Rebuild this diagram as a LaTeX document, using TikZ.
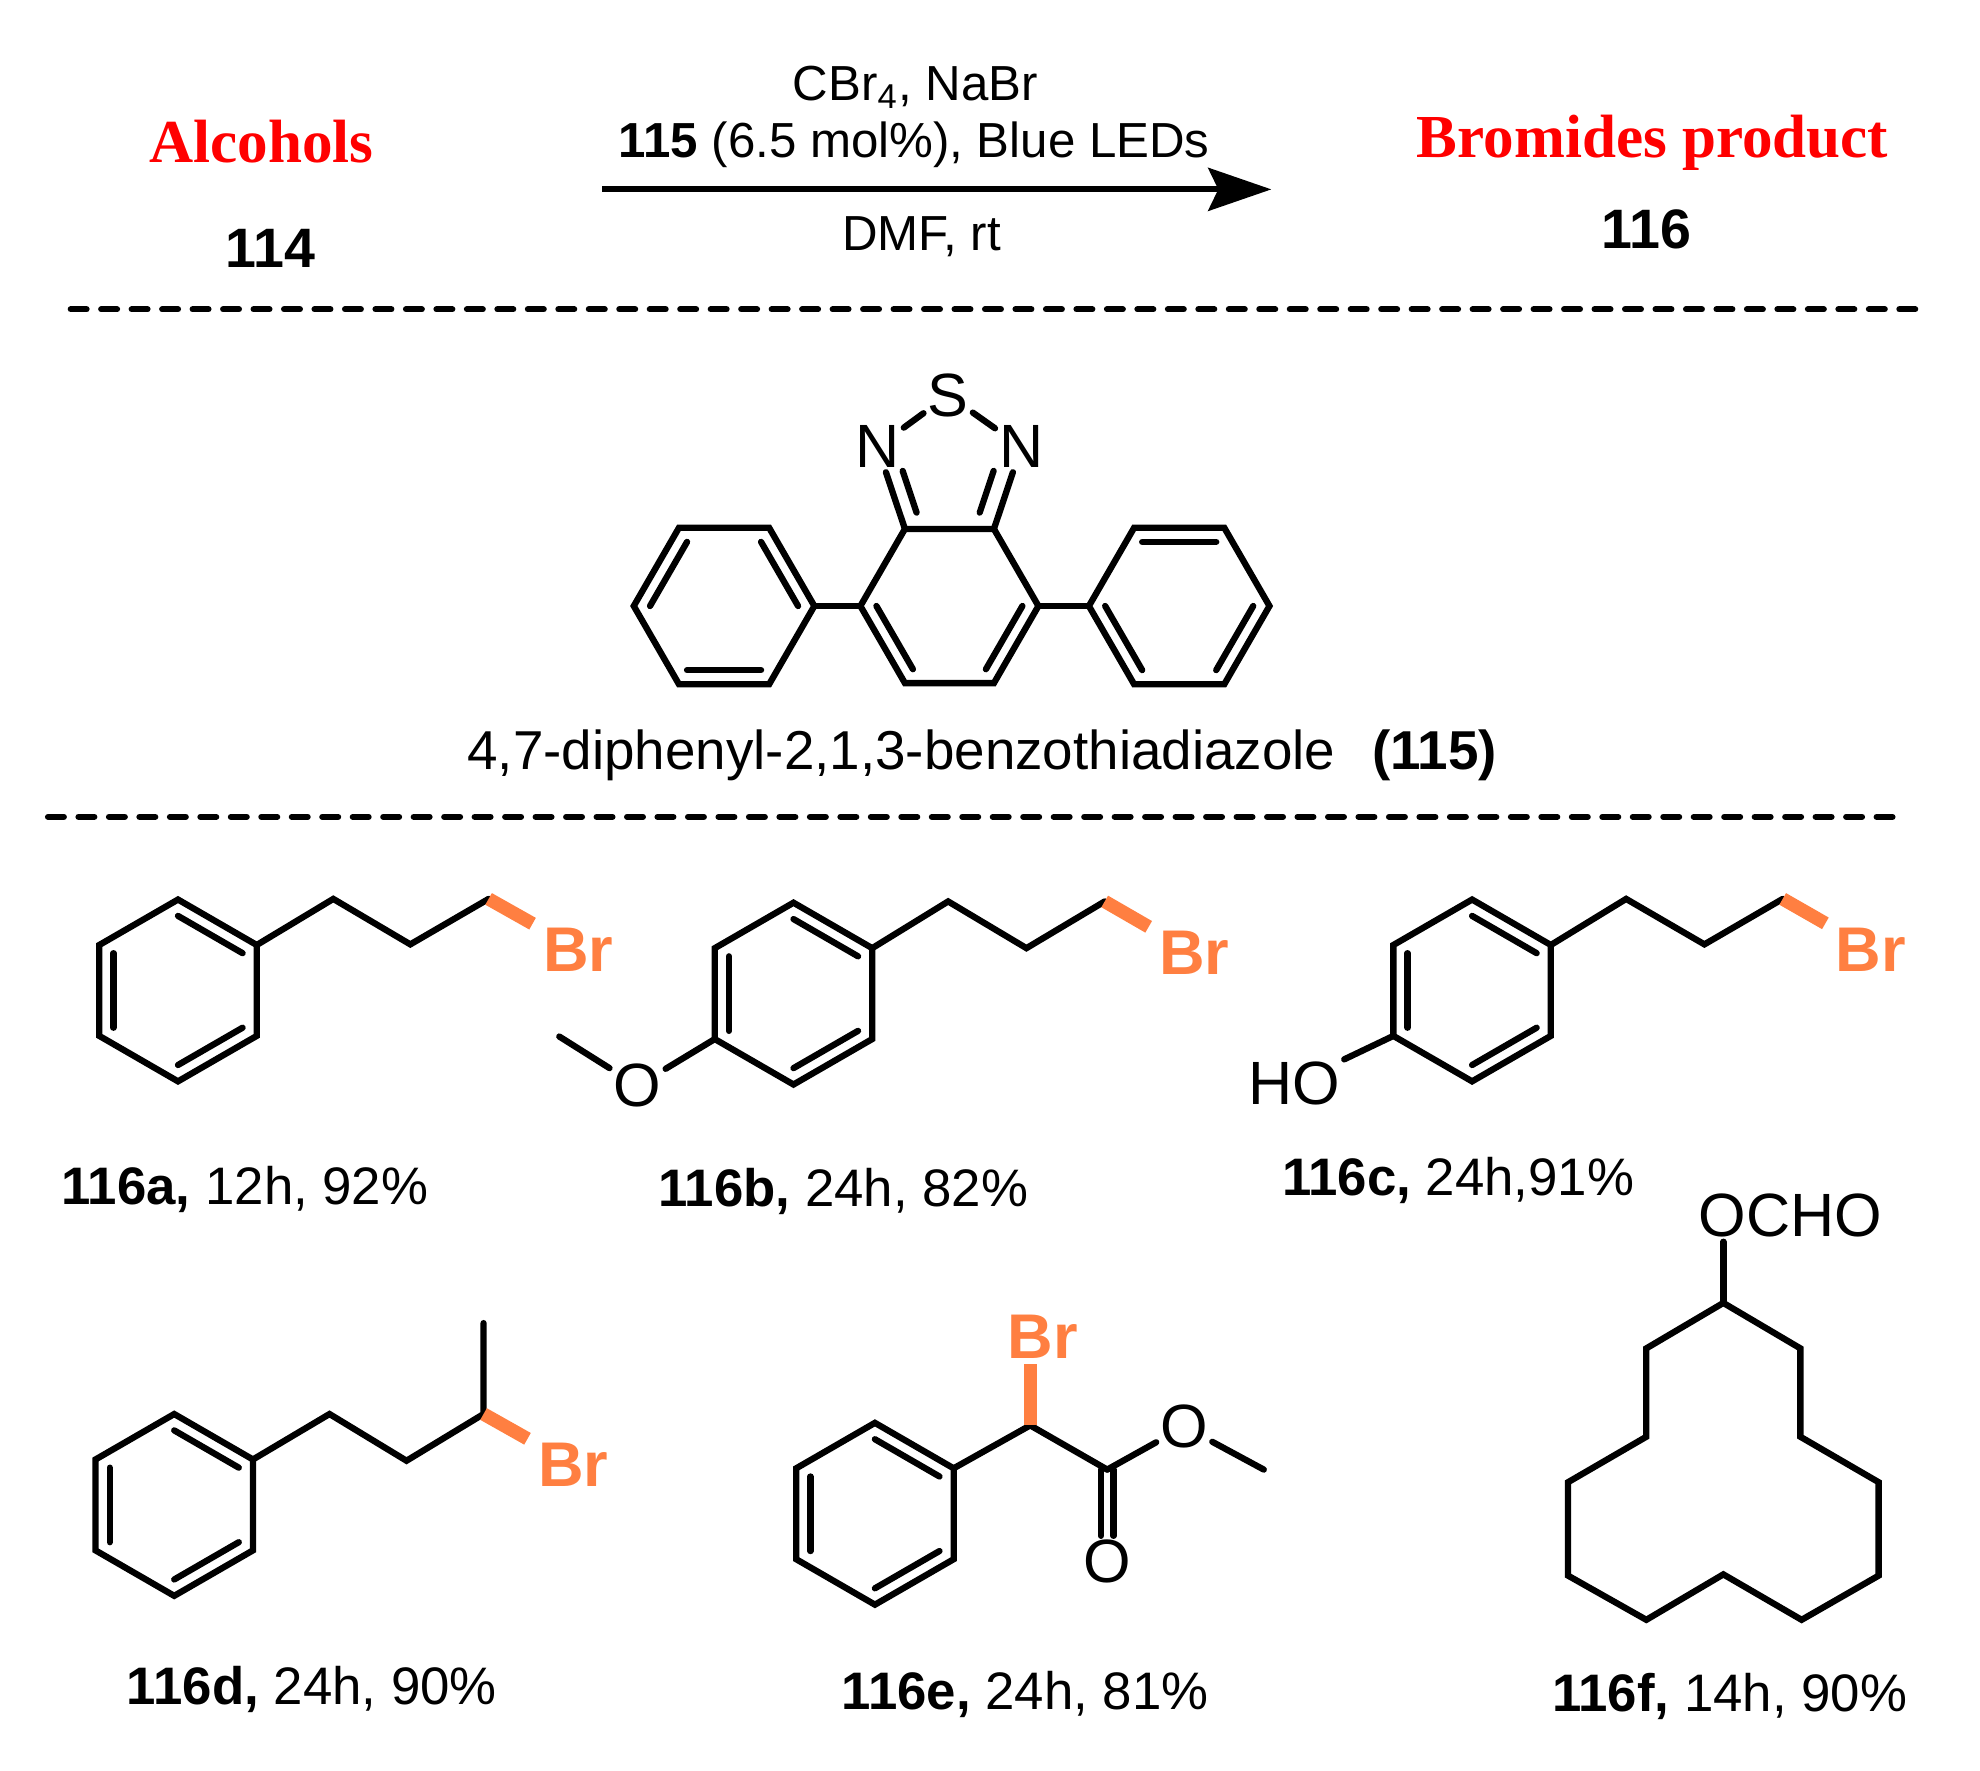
\documentclass[tikz,border=0pt]{standalone}
\usepackage{fontspec}
\setmainfont{Liberation Sans}
\newfontfamily\titlefont{Liberation Serif}
\usetikzlibrary{calc,arrows.meta}
\definecolor{brorange}{HTML}{FF7F41}
\tikzset{
	bond/.style={line width=2.5pt,line cap=round},
	brbond/.style={line width=5.3pt,draw=brorange},
	sepline/.style={line width=2.4pt,line cap=round,dash pattern=on 6.3pt off 5.77pt},
	atom/.style={inner sep=1.5pt,font=\fontsize{24.2}{25}\selectfont},
	bromine/.style={inner sep=4pt,text=brorange,font=\fontsize{25}{25}\selectfont\bfseries},
	cond/.style={inner sep=0pt,font=\fontsize{19.5}{21}\selectfont},
	num/.style={inner sep=0pt,font=\fontsize{22}{22}\selectfont\bfseries},
	yield/.style={inner sep=0pt,font=\fontsize{20.9}{21}\selectfont},
	title/.style={inner sep=0pt,text=red,font=\fontsize{24.2}{24}\selectfont\titlefont\bfseries}
}
% ring: name, x, y, first angle, radius
\newcommand{\hexring}[5]{
	\coordinate (#1) at (#2,#3);
	\foreach \k in {1,...,6}
		\coordinate (#1-\k) at ($(#1)+({#4+60*(\k-1)}:#5)$);
	\draw[bond] (#1-1) -- (#1-2) -- (#1-3) -- (#1-4) -- (#1-5) -- (#1-6) -- cycle;
}
% inner line of a double bond
\newcommand{\ringdbl}[3]{
	\draw[bond] ($(#1-#2)!0.18!(#1)$) -- ($(#1-#3)!0.18!(#1)$);
}
% product ring with its three double bonds
\newcommand{\benzene}[3]{
	\hexring{#1}{#2}{#3}{30}{72}
	\ringdbl{#1}{5}{6}
	\ringdbl{#1}{3}{4}
	\ringdbl{#1}{1}{2}
}
\begin{document}
\begin{tikzpicture}[x=0.5pt,y=-0.5pt]
	\useasboundingbox (0,0) rectangle (1568.3,1402);
	
	% Scheme
	\node[title] (alcohols) at (207,112.5) {Alcohols};
	\node[num] (n114) at (214,197) {114};
	\node[cond] (reagents) at (725,69) {CBr\textsubscript{4}, NaBr};
	\node[cond] (catalyst) at (724,115) {\textbf{115} (6.5 mol\%), Blue LEDs};
	\node[cond] (solvent) at (730,187.5) {DMF, rt};
	\node[title] (bromides) at (1309,113) {Bromides product};
	\node[num] (n116) at (1304,182) {116};
	\coordinate (arrowstart) at (477,150);
	\coordinate (arrowend) at (1007,150);
	\draw[line width=2.4pt,-{Stealth[length=25pt,width=17pt,inset=4pt]}] (arrowstart) -- (arrowend);
	
	% Separators
	\coordinate (sepa) at (56,245);
	\coordinate (sepb) at (1517,245);
	\coordinate (sepc) at (38,647);
	\coordinate (sepd) at (1499,647);
	\draw[sepline] (sepa) -- (sepb);
	\draw[sepline] (sepc) -- (sepd);
	
	% Catalyst 115
	\hexring{pl}{573.5}{480}{0}{71.5}
	\ringdbl{pl}{4}{5}
	\ringdbl{pl}{6}{1}
	\ringdbl{pl}{2}{3}
	\hexring{core}{752}{480}{0}{70.5}
	\ringdbl{core}{3}{4}
	\ringdbl{core}{1}{2}
	\hexring{pr}{934}{480}{0}{71.5}
	\ringdbl{pr}{5}{6}
	\ringdbl{pr}{3}{4}
	\ringdbl{pr}{1}{2}
	\draw[bond] (pl-1) -- (core-4);
	\draw[bond] (core-1) -- (pr-4);
	\node[atom] (Nl) at (695,354) {N};
	\node[atom] (Nr) at (809,354) {N};
	\node[atom] (S) at (751,313) {S};
	\coordinate (Nla) at (715,373);
	\coordinate (Nlb) at (726,406);
	\coordinate (Nra) at (787,373);
	\coordinate (Nrb) at (776,406);
	\draw[bond] (Nl) -- (S); % thiadiazole
	\draw[bond] (S) -- (Nr);
	\draw[bond] (Nl) -- (core-5);
	\draw[bond] (Nr) -- (core-6);
	\draw[bond] (Nla) -- (Nlb);
	\draw[bond] (Nra) -- (Nrb);
	\node[yield,font=\fontsize{21.7}{22}\selectfont] (name115) at (778,598) {4,7-diphenyl-2,1,3-benzothiadiazole\hspace{0.67em}\textbf{(115)}};
	
	% 116a
	\benzene{a}{141}{784.5}
	\coordinate (a1) at (264,712);
	\coordinate (a2) at (325,748);
	\coordinate (a3) at (387,712);
	\draw[bond] (a-6) -- (a1) -- (a2) -- (a3);
	\node[bromine] (aBr) at (458,752) {Br};
	\draw[brbond] (a3) -- (aBr);
	\node[yield] (la) at (194,942) {\textbf{116a,} 12h, 92\%};
	
	% 116b
	\benzene{b}{628.5}{787}
	\coordinate (b1) at (751,714);
	\coordinate (b2) at (813,751);
	\coordinate (b3) at (875,714);
	\draw[bond] (b-6) -- (b1) -- (b2) -- (b3);
	\node[bromine] (bBr) at (946,755) {Br};
	\draw[brbond] (b3) -- (bBr);
	\node[atom] (bO) at (505,860) {O};
	\coordinate (bMe) at (443,821);
	\draw[bond] (b-3) -- (bO);
	\draw[bond] (bO) -- (bMe);
	\node[yield] (lb) at (668,944) {\textbf{116b,} 24h, 82\%};
	
	% 116c
	\benzene{c}{1166}{784.5}
	\coordinate (c1) at (1288,712);
	\coordinate (c2) at (1350,748);
	\coordinate (c3) at (1412,712);
	\draw[bond] (c-6) -- (c1) -- (c2) -- (c3);
	\node[bromine] (cBr) at (1482,752) {Br};
	\draw[brbond] (c3) -- (cBr);
	\node[atom] (cOH) at (1025,858) {HO};
	\draw[bond] (c-3) -- (cOH);
	\node[yield] (lc) at (1155,935) {\textbf{116c,} 24h,91\%};
	
	% 116d
	\benzene{d}{138}{1192}
	\coordinate (d1) at (261,1120);
	\coordinate (d2) at (322,1157);
	\coordinate (d3) at (383,1120);
	\coordinate (dMe) at (383,1048);
	\draw[bond] (d-6) -- (d1) -- (d2) -- (d3) -- (dMe);
	\node[bromine] (dBr) at (454,1160) {Br};
	\draw[brbond] (d3) -- (dBr);
	\node[yield] (ld) at (247,1338) {\textbf{116d,} 24h, 90\%};
	
	% 116e
	\benzene{e}{693}{1199}
	\coordinate (e1) at (816,1129);
	\coordinate (e2) at (877,1164);
	\coordinate (eMe) at (1001,1164);
	\coordinate (eBrEnd) at (816,1080);
	\node[atom] (eO) at (938,1130) {O};
	\node[atom] (eOd) at (877,1237) {O};
	\draw[bond] (e-6) -- (e1) -- (e2);
	\draw[bond] (e2) -- (eO);
	\draw[bond] (eO) -- (eMe);
	\draw[bond] ([xshift=-2.5pt]e2) -- ([xshift=-2.5pt]eOd.north); % C=O
	\draw[bond] ([xshift=2.5pt]e2) -- ([xshift=2.5pt]eOd.north);
	\node[bromine] (eBr) at (826,1059) {Br};
	\draw[brbond] (e1) -- (eBrEnd);
	\node[yield] (le) at (812,1342) {\textbf{116e,} 24h, 81\%};
	
	% 116f
	\coordinate (f1) at (1365,1032);
	\coordinate (f2) at (1426,1068);
	\coordinate (f3) at (1426,1138);
	\coordinate (f4) at (1488,1174);
	\coordinate (f5) at (1488,1248);
	\coordinate (f6) at (1427,1283);
	\coordinate (f7) at (1365,1247);
	\coordinate (f8) at (1304,1283);
	\coordinate (f9) at (1242,1248);
	\coordinate (f10) at (1242,1174);
	\coordinate (f11) at (1304,1138);
	\coordinate (f12) at (1304,1068);
	\draw[bond] (f1) -- (f2) -- (f3) -- (f4) -- (f5) -- (f6) -- (f7) -- (f8) -- (f9) -- (f10) -- (f11) -- (f12) -- cycle;
	\node[atom] (fO) at (1418,963) {OCHO};
	\draw[bond] (f1) -- (f1 |- fO.south);
	\node[yield] (lf) at (1370,1344) {\textbf{116f,} 14h, 90\%};
\end{tikzpicture}
\end{document}
